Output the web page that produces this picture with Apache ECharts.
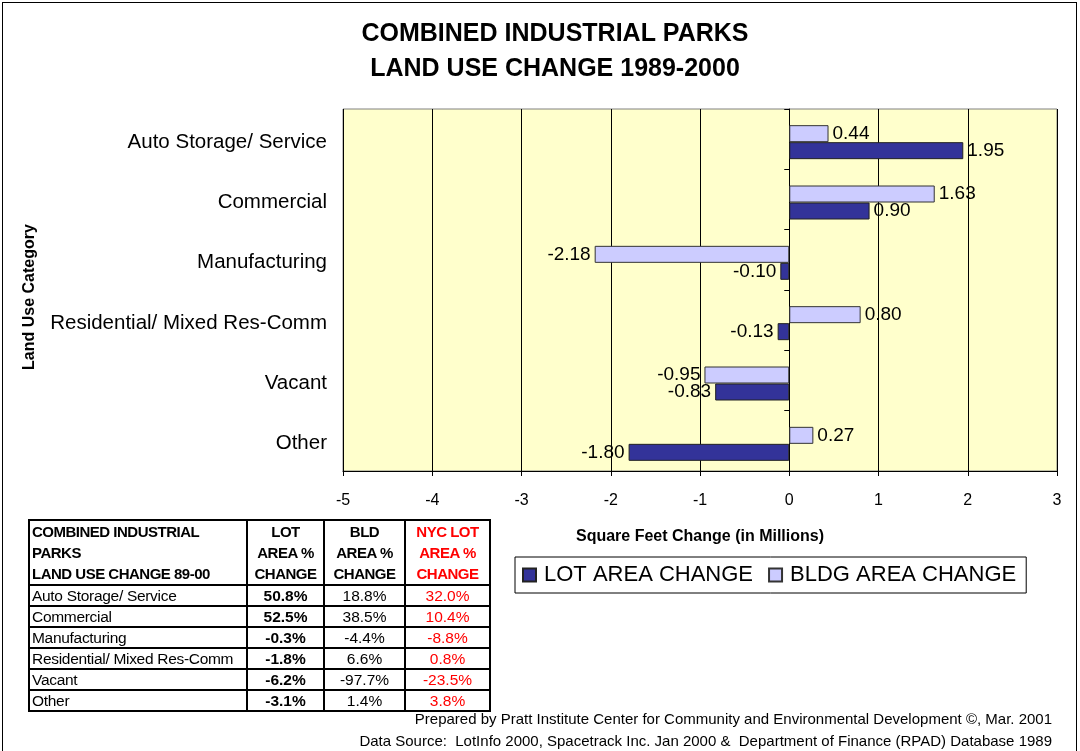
<!DOCTYPE html>
<html>
<head>
<meta charset="utf-8">
<script src="https://cdn.jsdelivr.net/npm/echarts@6/dist/echarts.min.js"></script>
<style>
  html, body { margin: 0; padding: 0; background: #fff; }
  #wrap { position: relative; width: 1080px; height: 751px; overflow: hidden; }
  #frame { position: absolute; left: 2px; top: 2px; width: 1075px; height: 760px; border: 1px solid #000; box-sizing: border-box; pointer-events: none; }
  #mainChart { position: absolute; left: 0; top: 0; width: 1080px; height: 751px; }
  #tbl { position: absolute; left: 28px; top: 519px; width: 462px; table-layout: fixed; border-collapse: collapse; font-family: "Liberation Sans", Arial, sans-serif; font-size: 15.5px; line-height: 19px; }
  #tbl td, #tbl th { border: 2px solid #000; padding: 0 2px; white-space: nowrap; overflow: hidden; }
  #tbl th { font-weight: bold; text-align: center; vertical-align: top; line-height: 21px; letter-spacing: -0.5px; font-size: 15px; }
  #tbl th.first { text-align: left; }
  #tbl td { text-align: center; }
  #tbl td.first { text-align: left; letter-spacing: -0.3px; }
  #tbl .red { color: #ff0000; }
</style>
</head>
<body>
<div id="wrap">
  <div id="mainChart"></div>
  <table id="tbl"></table>
  <div id="frame"></div>
</div>
<script>
const categories = ['Auto Storage/ Service', 'Commercial', 'Manufacturing', 'Residential/ Mixed Res-Comm', 'Vacant', 'Other'];
const lotChange = [1.95, 0.90, -0.10, -0.13, -0.83, -1.80];
const bldgChange = [0.44, 1.63, -2.18, 0.80, -0.95, 0.27];

const tableHeader = ['COMBINED INDUSTRIAL<br>PARKS<br>LAND USE CHANGE 89-00', 'LOT<br>AREA %<br>CHANGE', 'BLD<br>AREA %<br>CHANGE', 'NYC LOT<br>AREA %<br>CHANGE'];
const lotPct = ['50.8%', '52.5%', '-0.3%', '-1.8%', '-6.2%', '-3.1%'];
const bldPct = ['18.8%', '38.5%', '-4.4%', '6.6%', '-97.7%', '1.4%'];
const nycPct = ['32.0%', '10.4%', '-8.8%', '0.8%', '-23.5%', '3.8%'];

const FONT = '"Liberation Sans", Arial, sans-serif';

// table under the chart
const colW = [218, 77, 81, 85];
const tbl = document.getElementById('tbl');
let html = '<colgroup>' + colW.map(w => `<col style="width:${w}px">`).join('') + '</colgroup>';
html += '<tr>' + tableHeader.map((h, i) =>
  `<th class="${i === 0 ? 'first' : ''}${i === 3 ? ' red' : ''}">${h}</th>`).join('') + '</tr>';
categories.forEach((c, i) => {
  html += `<tr><td class="first">${c}</td><td><b>${lotPct[i]}</b></td><td>${bldPct[i]}</td><td class="red">${nycPct[i]}</td></tr>`;
});
tbl.innerHTML = html;

const myChart = echarts.init(document.getElementById('mainChart'));

const toItems = arr => arr.map(v => ({
  value: v,
  label: { position: v < 0 ? 'left' : 'right' }
}));

const barLabel = {
  show: true,
  formatter: p => p.value.toFixed(2),
  fontFamily: FONT,
  fontSize: 19,
  color: '#000',
  distance: 4
};

const option = {
  animation: false,
  textStyle: { fontFamily: FONT },
  title: {
    text: 'COMBINED INDUSTRIAL PARKS\nLAND USE CHANGE 1989-2000',
    left: 550,
    top: 12,
    textAlign: 'center',
    textStyle: { fontFamily: FONT, fontSize: 25, fontWeight: 'bold', color: '#000', lineHeight: 35 }
  },
  legend: {
    data: ['LOT AREA CHANGE', 'BLDG AREA CHANGE'],
    left: 515,
    top: 557,
    padding: [7, 10, 7, 7],
    borderColor: '#000',
    borderWidth: 1,
    icon: 'rect',
    itemWidth: 13,
    itemHeight: 13,
    itemGap: 15,
    textStyle: { fontFamily: FONT, fontSize: 22, color: '#000', padding: [0, 0, 0, 3] }
  },
  grid: [
    {
      left: 343, right: 23, top: 109, bottom: 280,
      show: true,
      backgroundColor: '#FFFFCC',
      borderColor: '#808080',
      borderWidth: 1
    },
    { left: 343, right: 23, top: 112, bottom: 277 }
  ],
  xAxis: [
    {
      type: 'value',
      gridIndex: 0,
      min: -5,
      max: 3,
      interval: 1,
      name: 'Square Feet Change (in Millions)',
      nameLocation: 'middle',
      nameGap: 58,
      nameTextStyle: { fontFamily: FONT, fontSize: 16, fontWeight: 'bold', color: '#000' },
      axisLine: { show: true, lineStyle: { color: '#000' } },
      axisTick: { show: true, length: 5, lineStyle: { color: '#000' } },
      axisLabel: { fontFamily: FONT, fontSize: 16, color: '#000', margin: 22 },
      splitLine: { show: true, lineStyle: { color: '#000', width: 1 } }
    },
    {
      type: 'value',
      gridIndex: 1,
      min: -5,
      max: 3,
      interval: 1,
      show: false
    }
  ],
  yAxis: [
    {
      type: 'category',
      gridIndex: 1,
      data: categories,
      inverse: true,
      axisLine: { show: false, onZero: false },
      axisTick: { show: false },
      axisLabel: { fontFamily: FONT, fontSize: 20.5, color: '#000', margin: 16, padding: [2, 0, 0, 0] }
    },
    {
      type: 'category',
      gridIndex: 0,
      data: categories,
      inverse: true,
      axisLine: { show: true, onZero: true, lineStyle: { color: '#000' } },
      axisTick: { show: true, length: 5, lineStyle: { color: '#000' } },
      axisLabel: { show: false }
    }
  ],
  series: [
    {
      name: 'BLDG AREA CHANGE',
      type: 'bar',
      xAxisIndex: 1,
      yAxisIndex: 0,
      data: toItems(bldgChange),
      barWidth: 17,
      barGap: '0%',
      itemStyle: { color: '#CCCCFF', borderColor: '#333', borderWidth: 1 },
      label: barLabel
    },
    {
      name: 'LOT AREA CHANGE',
      type: 'bar',
      xAxisIndex: 1,
      yAxisIndex: 0,
      data: toItems(lotChange),
      barWidth: 17,
      barGap: '0%',
      itemStyle: { color: '#333399', borderColor: '#222', borderWidth: 1 },
      label: barLabel
    }
  ],
  graphic: [
    {
      type: 'text',
      x: 30,
      y: 297,
      rotation: Math.PI / 2,
      style: { text: 'Land Use Category', font: 'bold 16px ' + FONT, fill: '#000', align: 'center', verticalAlign: 'middle' }
    },
    {
      type: 'text',
      right: 28,
      top: 712,
      style: { text: 'Prepared by Pratt Institute Center for Community and Environmental Development ©, Mar. 2001', font: '15px ' + FONT, fill: '#000' }
    },
    {
      type: 'text',
      right: 28,
      top: 734,
      style: { text: 'Data Source:  LotInfo 2000, Spacetrack Inc. Jan 2000 &  Department of Finance (RPAD) Database 1989', font: '15px ' + FONT, fill: '#000' }
    }
  ]
};

myChart.setOption(option);
</script>
</body>
</html>
